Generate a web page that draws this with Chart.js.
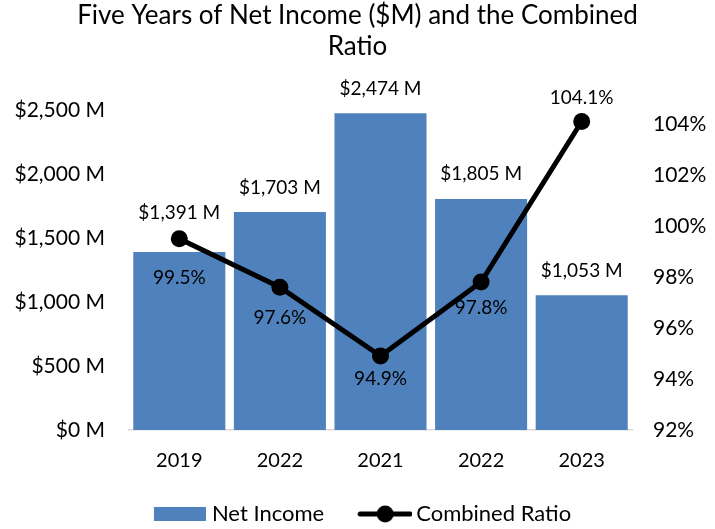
<!DOCTYPE html>
<html lang="en">

<head>
  <meta charset="UTF-8">
  <title>Net Income and Combined Ratio</title>
  <script src="https://cdn.jsdelivr.net/npm/chart.js"></script>
  <style>
    body {
      margin: 0;
      background-color: #fff;
    }

    #combo-chart {
      display: block;
    }
  </style>
</head>

<body>
  <canvas id="combo-chart" width="715" height="529"></canvas>

  <script>
    const years = ['2019', '2022', '2021', '2022', '2023'];
    const netIncome = [1391, 1703, 2474, 1805, 1053];
    const combinedRatio = [99.5, 97.6, 94.9, 97.8, 104.1];

    const FONT = 'Lato, "Open Sans", sans-serif';
    const BAR_COLOR = '#4f81bd';

    // vertical nudge of each value label, in pixels (negative = above the mark)
    const barLabelShift = [-39, -24, -24, -25, -24];
    const ratioLabelShift = [39, 31, 23, 26, -24];

    function money(v) {
      return '$' + v.toLocaleString('en-US') + ' M';
    }

    function percent(v) {
      return v.toFixed(1) + '%';
    }

    // legend symbols: a canvas with some empty room on the left so the
    // symbol sits close to its text
    function legendSymbol(width, left, draw) {
      const c = document.createElement('canvas');
      c.width = width;
      c.height = 20;
      draw(c.getContext('2d'), left);
      return c;
    }

    function barSwatch() {
      return legendSymbol(67, 15, (g, x) => {
        g.fillStyle = BAR_COLOR;
        g.fillRect(x, 3, 52, 14);
      });
    }

    function lineSwatch() {
      return legendSymbol(71, 16, (g, x) => {
        g.strokeStyle = '#000';
        g.lineWidth = 5;
        g.lineCap = 'round';
        g.beginPath();
        g.moveTo(x + 3, 10);
        g.lineTo(x + 53, 10);
        g.stroke();
        g.fillStyle = '#000';
        g.beginPath();
        g.arc(x + 28, 10, 8.5, 0, Math.PI * 2);
        g.fill();
      });
    }

    const valueLabels = {
      id: 'valueLabels',
      afterDatasetsDraw(chart) {
        const ctx = chart.ctx;
        ctx.save();
        ctx.font = '19px ' + FONT;
        ctx.fillStyle = '#000';
        ctx.textAlign = 'center';
        ctx.textBaseline = 'middle';

        chart.getDatasetMeta(0).data.forEach((bar, i) => {
          ctx.fillText(money(netIncome[i]), bar.x, bar.y + barLabelShift[i]);
        });
        chart.getDatasetMeta(1).data.forEach((pt, i) => {
          ctx.fillText(percent(combinedRatio[i]), pt.x, pt.y + ratioLabelShift[i]);
        });
        ctx.restore();
      }
    };

    new Chart(document.getElementById('combo-chart'), {
      data: {
        labels: years,
        datasets: [{
          type: 'bar',
          label: 'Net Income',
          data: netIncome,
          backgroundColor: BAR_COLOR,
          yAxisID: 'y',
          order: 1,
          barPercentage: 1,
          categoryPercentage: 0.915
        }, {
          type: 'line',
          label: 'Combined Ratio',
          data: combinedRatio,
          borderColor: '#000',
          backgroundColor: '#000',
          borderWidth: 5,
          pointRadius: 8.5,
          pointHoverRadius: 8.5,
          pointBorderWidth: 0,
          tension: 0,
          yAxisID: 'y1',
          order: 0
        }]
      },
      options: {
        responsive: false,
        animation: false,
        layout: {
          padding: { bottom: -6 }
        },
        plugins: {
          title: {
            display: true,
            text: ['Five Years of Net Income ($M) and the Combined', 'Ratio'],
            color: '#000',
            font: { family: FONT, size: 26, weight: 'normal', lineHeight: 1.2 },
            padding: { top: 0, bottom: 47.6 }
          },
          legend: {
            position: 'bottom',
            labels: {
              color: '#000',
              font: { family: FONT, size: 22 },
              usePointStyle: true,
              pointStyleWidth: 57,
              padding: 24,
              sort: (a, b) => a.datasetIndex - b.datasetIndex,
              generateLabels(chart) {
                const items = Chart.defaults.plugins.legend.labels.generateLabels(chart);
                items.forEach(item => {
                  item.pointStyle = item.datasetIndex === 0 ? barSwatch() : lineSwatch();
                });
                return items;
              }
            }
          },
          tooltip: { enabled: false }
        },
        scales: {
          x: {
            grid: { display: false, drawTicks: false },
            border: { display: true, color: '#d9d9d9', width: 1.5 },
            ticks: {
              color: '#000',
              font: { family: FONT, size: 20 },
              padding: 19
            },
            afterFit(scale) {
              scale.height = 49;
            }
          },
          y: {
            position: 'left',
            min: 0,
            max: 2500,
            grid: { display: false, drawTicks: false },
            border: { display: false },
            ticks: {
              stepSize: 500,
              color: '#000',
              font: { family: FONT, size: 21 },
              padding: 24,
              callback: v => money(v)
            },
            afterFit(scale) {
              scale.width = 129;
            }
          },
          y1: {
            position: 'right',
            min: 92,
            max: 104.55,
            grid: { display: false, drawTicks: false },
            border: { display: false },
            ticks: {
              stepSize: 2,
              includeBounds: false,
              color: '#000',
              font: { family: FONT, size: 21 },
              padding: 21,
              callback: v => v + '%'
            },
            afterFit(scale) {
              scale.width = 83;
            }
          }
        }
      },
      plugins: [valueLabels]
    });
  </script>
</body>

</html>
